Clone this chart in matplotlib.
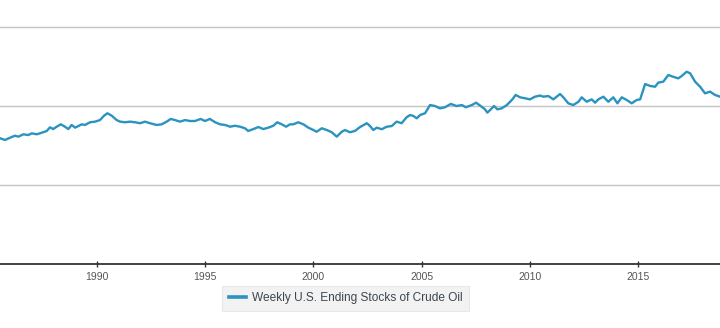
import matplotlib
matplotlib.use("Agg")
import matplotlib.pyplot as plt

plt.rcParams['font.family'] = ['Liberation Sans', 'DejaVu Sans']

# Decimal year of each sample
years = [1985.52, 1985.75, 1985.98, 1986.21, 1986.37, 1986.60, 1986.83, 1986.98,
         1987.22, 1987.45, 1987.68, 1987.83, 1987.98, 1988.14, 1988.33, 1988.52,
         1988.68, 1988.83, 1988.99, 1989.14, 1989.30, 1989.45, 1989.68, 1989.91,
         1990.14, 1990.33, 1990.48, 1990.68, 1990.91, 1991.07, 1991.30, 1991.53,
         1991.76, 1991.99, 1992.22, 1992.45, 1992.76, 1992.99, 1993.22, 1993.41,
         1993.61, 1993.84, 1994.07, 1994.30, 1994.53, 1994.79, 1994.99, 1995.22,
         1995.46, 1995.69, 1995.92, 1996.15, 1996.38, 1996.61, 1996.84, 1996.99,
         1997.23, 1997.46, 1997.69, 1997.92, 1998.15, 1998.33, 1998.54, 1998.74,
         1998.92, 1999.07, 1999.30, 1999.54, 1999.77, 2000.00, 2000.15, 2000.39,
         2000.62, 2000.85, 2001.08, 2001.31, 2001.46, 2001.69, 2001.92, 2002.16,
         2002.47, 2002.62, 2002.77, 2002.93, 2003.16, 2003.39, 2003.62, 2003.85,
         2004.08, 2004.31, 2004.47, 2004.62, 2004.78, 2004.93, 2005.16, 2005.39,
         2005.62, 2005.85, 2006.08, 2006.35, 2006.62, 2006.86, 2007.05, 2007.32,
         2007.52, 2007.73, 2007.93, 2008.04, 2008.20, 2008.35, 2008.50, 2008.70,
         2008.94, 2009.17, 2009.35, 2009.55, 2009.78, 2010.01, 2010.24, 2010.47,
         2010.63, 2010.86, 2011.09, 2011.40, 2011.55, 2011.78, 2012.01, 2012.25,
         2012.40, 2012.63, 2012.86, 2013.02, 2013.17, 2013.40, 2013.63, 2013.86,
         2014.05, 2014.25, 2014.48, 2014.71, 2014.94, 2015.10, 2015.33, 2015.56,
         2015.79, 2015.94, 2016.17, 2016.40, 2016.63, 2016.86, 2017.02, 2017.25,
         2017.41, 2017.64, 2017.87, 2018.10, 2018.33, 2018.56, 2018.79]

# Weekly U.S. ending stocks of crude oil (thousand barrels)
stocks = [796000, 785000, 799000, 812000, 806000, 821000, 816000, 827000,
          821000, 831000, 842000, 865000, 854000, 869000, 884000, 869000,
          854000, 880000, 863000, 873000, 884000, 880000, 897000, 901000,
          911000, 939000, 954000, 939000, 911000, 901000, 897000, 901000,
          897000, 891000, 901000, 891000, 880000, 884000, 901000, 918000,
          911000, 901000, 911000, 905000, 905000, 918000, 905000, 918000,
          897000, 884000, 880000, 869000, 875000, 869000, 859000, 842000,
          854000, 867000, 854000, 863000, 875000, 897000, 884000, 869000,
          884000, 884000, 897000, 884000, 863000, 848000, 837000, 859000,
          848000, 834000, 806000, 837000, 848000, 834000, 842000, 867000,
          891000, 873000, 848000, 863000, 853000, 869000, 873000, 901000,
          891000, 929000, 943000, 937000, 922000, 943000, 954000, 1006000,
          1000000, 985000, 992000, 1013000, 1000000, 1006000, 992000, 1006000,
          1021000, 1000000, 979000, 958000, 979000, 1000000, 979000, 985000,
          1006000, 1038000, 1070000, 1055000, 1049000, 1042000, 1059000, 1066000,
          1059000, 1063000, 1042000, 1076000, 1055000, 1017000, 1006000, 1027000,
          1055000, 1027000, 1042000, 1021000, 1042000, 1059000, 1027000, 1055000,
          1017000, 1055000, 1038000, 1017000, 1038000, 1042000, 1139000, 1127000,
          1122000, 1148000, 1154000, 1196000, 1185000, 1175000, 1190000, 1217000,
          1207000, 1154000, 1122000, 1080000, 1091000, 1070000, 1059000]

tick_years = [1990, 1995, 2000, 2005, 2010, 2015]
tick_labels = ["1990", "1995", "2000", "2005", "2010", "2015"]
grid_values = [500000, 1000000, 1500000]
series_name = "Weekly U.S. Ending Stocks of Crude Oil"

fig = plt.figure(figsize=(7.2, 3.28), dpi=100)
ax = fig.add_axes([0.0, 64 / 328, 1.0, 1 - 64 / 328])

for g in grid_values:
    ax.axhline(g, color='#c4c4c4', lw=1.0, zorder=1)

ax.plot(years, stocks, color='#2a93bf', lw=1.7, zorder=3,
        solid_joinstyle='round', label=series_name)

ax.set_xlim(1985.52, 2018.79)
ax.set_ylim(0, 1670900)

for s in ['top', 'left', 'right']:
    ax.spines[s].set_visible(False)
ax.spines['bottom'].set_color('#333333')
ax.spines['bottom'].set_linewidth(1.3)

ax.set_yticks([])
ax.set_xticks(tick_years)
ax.set_xticklabels(tick_labels)
ax.tick_params(axis='x', direction='inout', length=5, width=1, color='#333333',
               labelsize=7.5, labelcolor='#555555', pad=3)

leg = fig.legend(loc='center', bbox_to_anchor=(0.48, 1 - 298.5 / 328),
                 bbox_transform=fig.transFigure, fontsize=8.6, frameon=True,
                 fancybox=False, handlelength=1.4, handletextpad=0.5,
                 borderpad=0.55, labelcolor='#3c4650')
leg.get_frame().set_facecolor('#efefef')
leg.get_frame().set_edgecolor('#e4e4e4')
leg.get_frame().set_linewidth(0.8)
for h in leg.get_lines():
    h.set_linewidth(2.6)

fig.savefig('out.png', dpi=100)
